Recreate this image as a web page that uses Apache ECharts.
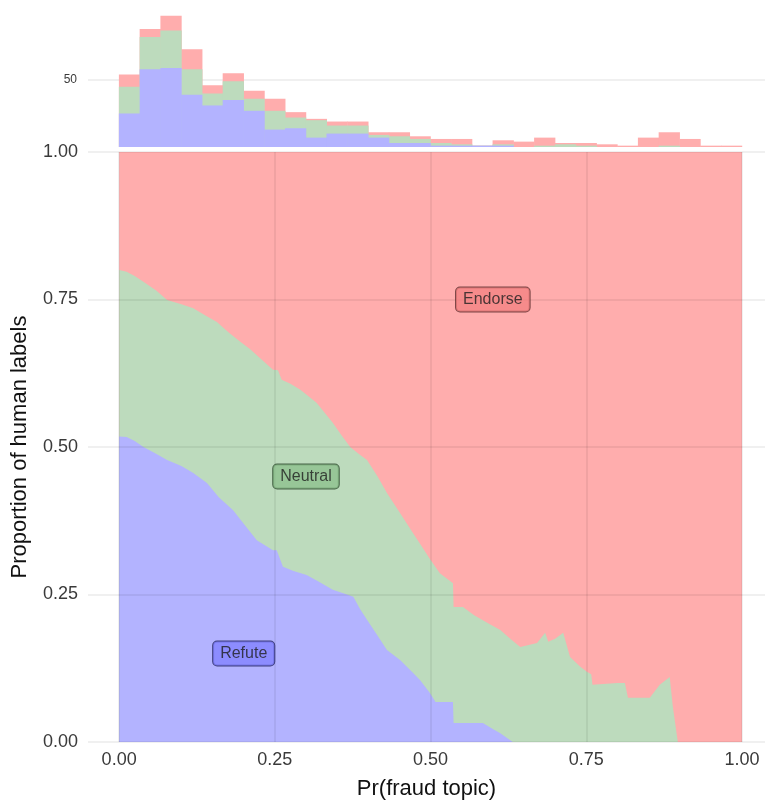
<!DOCTYPE html>
<html>
<head>
<meta charset="utf-8">
<script src="https://cdn.jsdelivr.net/npm/echarts@6/dist/echarts.min.js"></script>
<style>
  html, body { margin: 0; padding: 0; background: #fff; }
  #chart { width: 765px; height: 805px; }
</style>
</head>
<body>
<div id="chart"></div>
<script>
// histogram of Pr(fraud topic), 30 bins over [0, 1], counts per label
const binCount = 30;
const refuteCounts  = [25, 58, 59, 39, 31, 35, 27, 13, 14, 7, 10, 10, 7, 3, 3, 1, 1, 1, 1, 0, 0, 0, 0, 0, 0, 0, 0, 0, 0, 0];
const neutralCounts = [20, 24, 28, 19, 9, 14, 9, 14, 8, 13, 6, 6, 2, 5, 3, 2, 1, 0, 1, 0, 1, 2, 1, 0, 0, 0, 1, 0, 0, 0];
const endorseCounts = [9, 6, 11, 15, 6, 6, 6, 9, 4, 1, 3, 3, 2, 3, 2, 3, 4, 0, 3, 4, 6, 1, 2, 2, 1, 7, 10, 6, 1, 1];

// upper edge of the Refute band and of the Neutral band (Endorse fills to 1)
const refuteEdge = [
  [0, 0.518], [0.012, 0.517], [0.025, 0.51], [0.039, 0.5], [0.06, 0.488], [0.077, 0.478],
  [0.1, 0.468], [0.119, 0.456], [0.141, 0.439], [0.16, 0.415], [0.183, 0.393], [0.2, 0.37],
  [0.221, 0.342], [0.247, 0.325], [0.253, 0.325], [0.263, 0.297], [0.28, 0.29], [0.301, 0.283],
  [0.32, 0.272], [0.343, 0.258], [0.36, 0.252], [0.376, 0.246], [0.387, 0.225], [0.398, 0.207],
  [0.415, 0.18], [0.43, 0.156], [0.451, 0.139], [0.472, 0.117], [0.483, 0.105], [0.499, 0.083],
  [0.508, 0.068], [0.536, 0.068], [0.537, 0.032], [0.584, 0.032], [0.6, 0.022], [0.612, 0.015],
  [0.632, 0], [1, 0]
];
const neutralEdge = [
  [0, 0.8], [0.012, 0.797], [0.025, 0.79], [0.039, 0.78], [0.06, 0.765], [0.077, 0.749],
  [0.1, 0.742], [0.119, 0.735], [0.14, 0.722], [0.157, 0.712], [0.175, 0.695], [0.194, 0.679],
  [0.21, 0.666], [0.226, 0.651], [0.247, 0.631], [0.255, 0.63], [0.261, 0.614], [0.275, 0.607],
  [0.291, 0.597], [0.305, 0.585], [0.317, 0.575], [0.33, 0.558], [0.343, 0.541], [0.357, 0.52],
  [0.371, 0.5], [0.385, 0.488], [0.398, 0.478], [0.415, 0.45], [0.43, 0.422], [0.451, 0.388],
  [0.472, 0.354], [0.485, 0.333], [0.499, 0.31], [0.515, 0.286], [0.536, 0.269], [0.537, 0.229],
  [0.552, 0.229], [0.57, 0.215], [0.591, 0.202], [0.612, 0.19], [0.628, 0.175], [0.644, 0.161],
  [0.671, 0.168], [0.684, 0.185], [0.689, 0.17], [0.7, 0.175], [0.713, 0.185], [0.724, 0.144],
  [0.74, 0.128], [0.751, 0.119], [0.758, 0.115], [0.76, 0.097], [0.8, 0.1], [0.812, 0.1],
  [0.817, 0.075], [0.852, 0.075], [0.868, 0.097], [0.884, 0.11], [0.889, 0.06], [0.897, 0], [1, 0]
];
const endorseEdge = [[0, 1], [1, 1]];

const propTicks = [0, 0.25, 0.5, 0.75, 1];
const labelSpots = [
  { name: 'Endorse', value: [0.6, 0.75], fill: '#F48282', border: '#5a2a2a' },
  { name: 'Neutral', value: [0.3, 0.45], fill: '#8DC08D', border: '#2a472a' },
  { name: 'Refute', value: [0.2, 0.15], fill: '#8282FF', border: '#22225e' }
];

const RED = '#FFADAD';
const GREEN = '#BDDBBD';
const BLUE = '#B3B3FF';
const FONT = 'Liberation Sans, Arial, sans-serif';

// x range leaves a small margin left of 0 and runs to the right edge of the page
const X_MIN = -0.05;
const X_MAX = 1.037;

const binCenters = refuteCounts.map((_, i) => (i + 0.5) / binCount);
// bars are overlapped, so each one is drawn up to the running total
const refuteTop = refuteCounts.map((v) => v);
const neutralTop = neutralCounts.map((v, i) => v + refuteCounts[i]);
const endorseTop = endorseCounts.map((v, i) => v + neutralTop[i]);
const pairs = (arr) => arr.map((v, i) => [binCenters[i], v]);

const chart = echarts.init(document.getElementById('chart'), null, { renderer: 'canvas' });

const areaSeries = (name, data, color) => ({
  name,
  type: 'line',
  xAxisIndex: 0,
  yAxisIndex: 0,
  data,
  showSymbol: false,
  symbol: 'none',
  lineStyle: { width: 0 },
  areaStyle: { color, opacity: 1 },
  silent: true,
  z: 2
});

const histSeries = (name, tops, color) => ({
  name: name + ' count',
  type: 'bar',
  xAxisIndex: 1,
  yAxisIndex: 1,
  data: pairs(tops),
  barWidth: 623 / binCount + 0.5,
  barGap: '-100%',
  itemStyle: { color },
  silent: true,
  z: 2
});

const gridLine = { color: 'rgba(0,0,0,0.08)', width: 1.5, type: 'solid' };

chart.setOption({
  animation: false,
  backgroundColor: '#fff',
  textStyle: { fontFamily: FONT },
  grid: [
    { left: 88, top: 152, right: 0, height: 590 },
    { left: 88, top: 10, right: 0, height: 137 }
  ],
  xAxis: [
    {
      type: 'value',
      gridIndex: 0,
      min: X_MIN,
      max: X_MAX,
      axisLine: { show: false },
      axisTick: { show: false },
      splitLine: { show: false },
      axisLabel: {
        customValues: propTicks,
        formatter: (v) => v.toFixed(2),
        fontSize: 18,
        color: '#3a3a3a',
        margin: 9,
        fontFamily: FONT
      },
      name: 'Pr(fraud topic)',
      nameLocation: 'middle',
      nameGap: 36,
      nameTextStyle: { fontSize: 22, color: '#111', fontFamily: FONT }
    },
    {
      type: 'value',
      gridIndex: 1,
      min: X_MIN,
      max: X_MAX,
      show: false
    }
  ],
  yAxis: [
    {
      type: 'value',
      gridIndex: 0,
      min: 0,
      max: 1,
      interval: 0.25,
      axisLine: { show: false },
      axisTick: { show: false },
      splitLine: { show: false },
      axisLabel: {
        formatter: (v) => v.toFixed(2),
        fontSize: 18,
        color: '#3a3a3a',
        margin: 10,
        fontFamily: FONT
      },
      name: 'Proportion of human labels',
      nameLocation: 'middle',
      nameGap: 57,
      nameTextStyle: { fontSize: 22, color: '#111', fontFamily: FONT }
    },
    {
      type: 'value',
      gridIndex: 1,
      min: 0,
      max: 102.2,
      interval: 50,
      axisLine: { show: false },
      axisTick: { show: false },
      splitLine: { show: false },
      axisLabel: {
        formatter: (v) => (v === 50 ? '50' : ''),
        fontSize: 12,
        color: '#3a3a3a',
        margin: 11,
        fontFamily: FONT
      }
    }
  ],
  series: [
    Object.assign(areaSeries('Endorse', endorseEdge, RED), {
      markLine: {
        silent: true,
        symbol: 'none',
        z: 3,
        label: { show: false },
        lineStyle: gridLine,
        data: propTicks.map((v) => ({ xAxis: v })).concat(propTicks.map((v) => ({ yAxis: v })))
      }
    }),
    areaSeries('Neutral', neutralEdge, GREEN),
    areaSeries('Refute', refuteEdge, BLUE),
    Object.assign(histSeries('Endorse', endorseTop, RED), {
      markLine: {
        silent: true,
        symbol: 'none',
        z: 1,
        label: { show: false },
        lineStyle: { color: '#ebebeb', width: 1.5, type: 'solid' },
        data: [{ yAxis: 50 }]
      }
    }),
    histSeries('Neutral', neutralTop, GREEN),
    histSeries('Refute', refuteTop, BLUE),
    {
      type: 'scatter',
      xAxisIndex: 0,
      yAxisIndex: 0,
      symbolSize: 0,
      itemStyle: { color: 'rgba(0,0,0,0)' },
      silent: true,
      z: 10,
      data: labelSpots.map((s) => ({
        name: s.name,
        value: s.value,
        label: {
          show: true,
          position: 'inside',
          formatter: '{b}',
          fontSize: 16,
          color: '#1e1e1e',
          fontFamily: FONT,
          backgroundColor: s.fill,
          borderColor: s.border,
          borderWidth: 1,
          borderRadius: 4,
          padding: [4, 7]
        }
      }))
    }
  ]
});
</script>
</body>
</html>
